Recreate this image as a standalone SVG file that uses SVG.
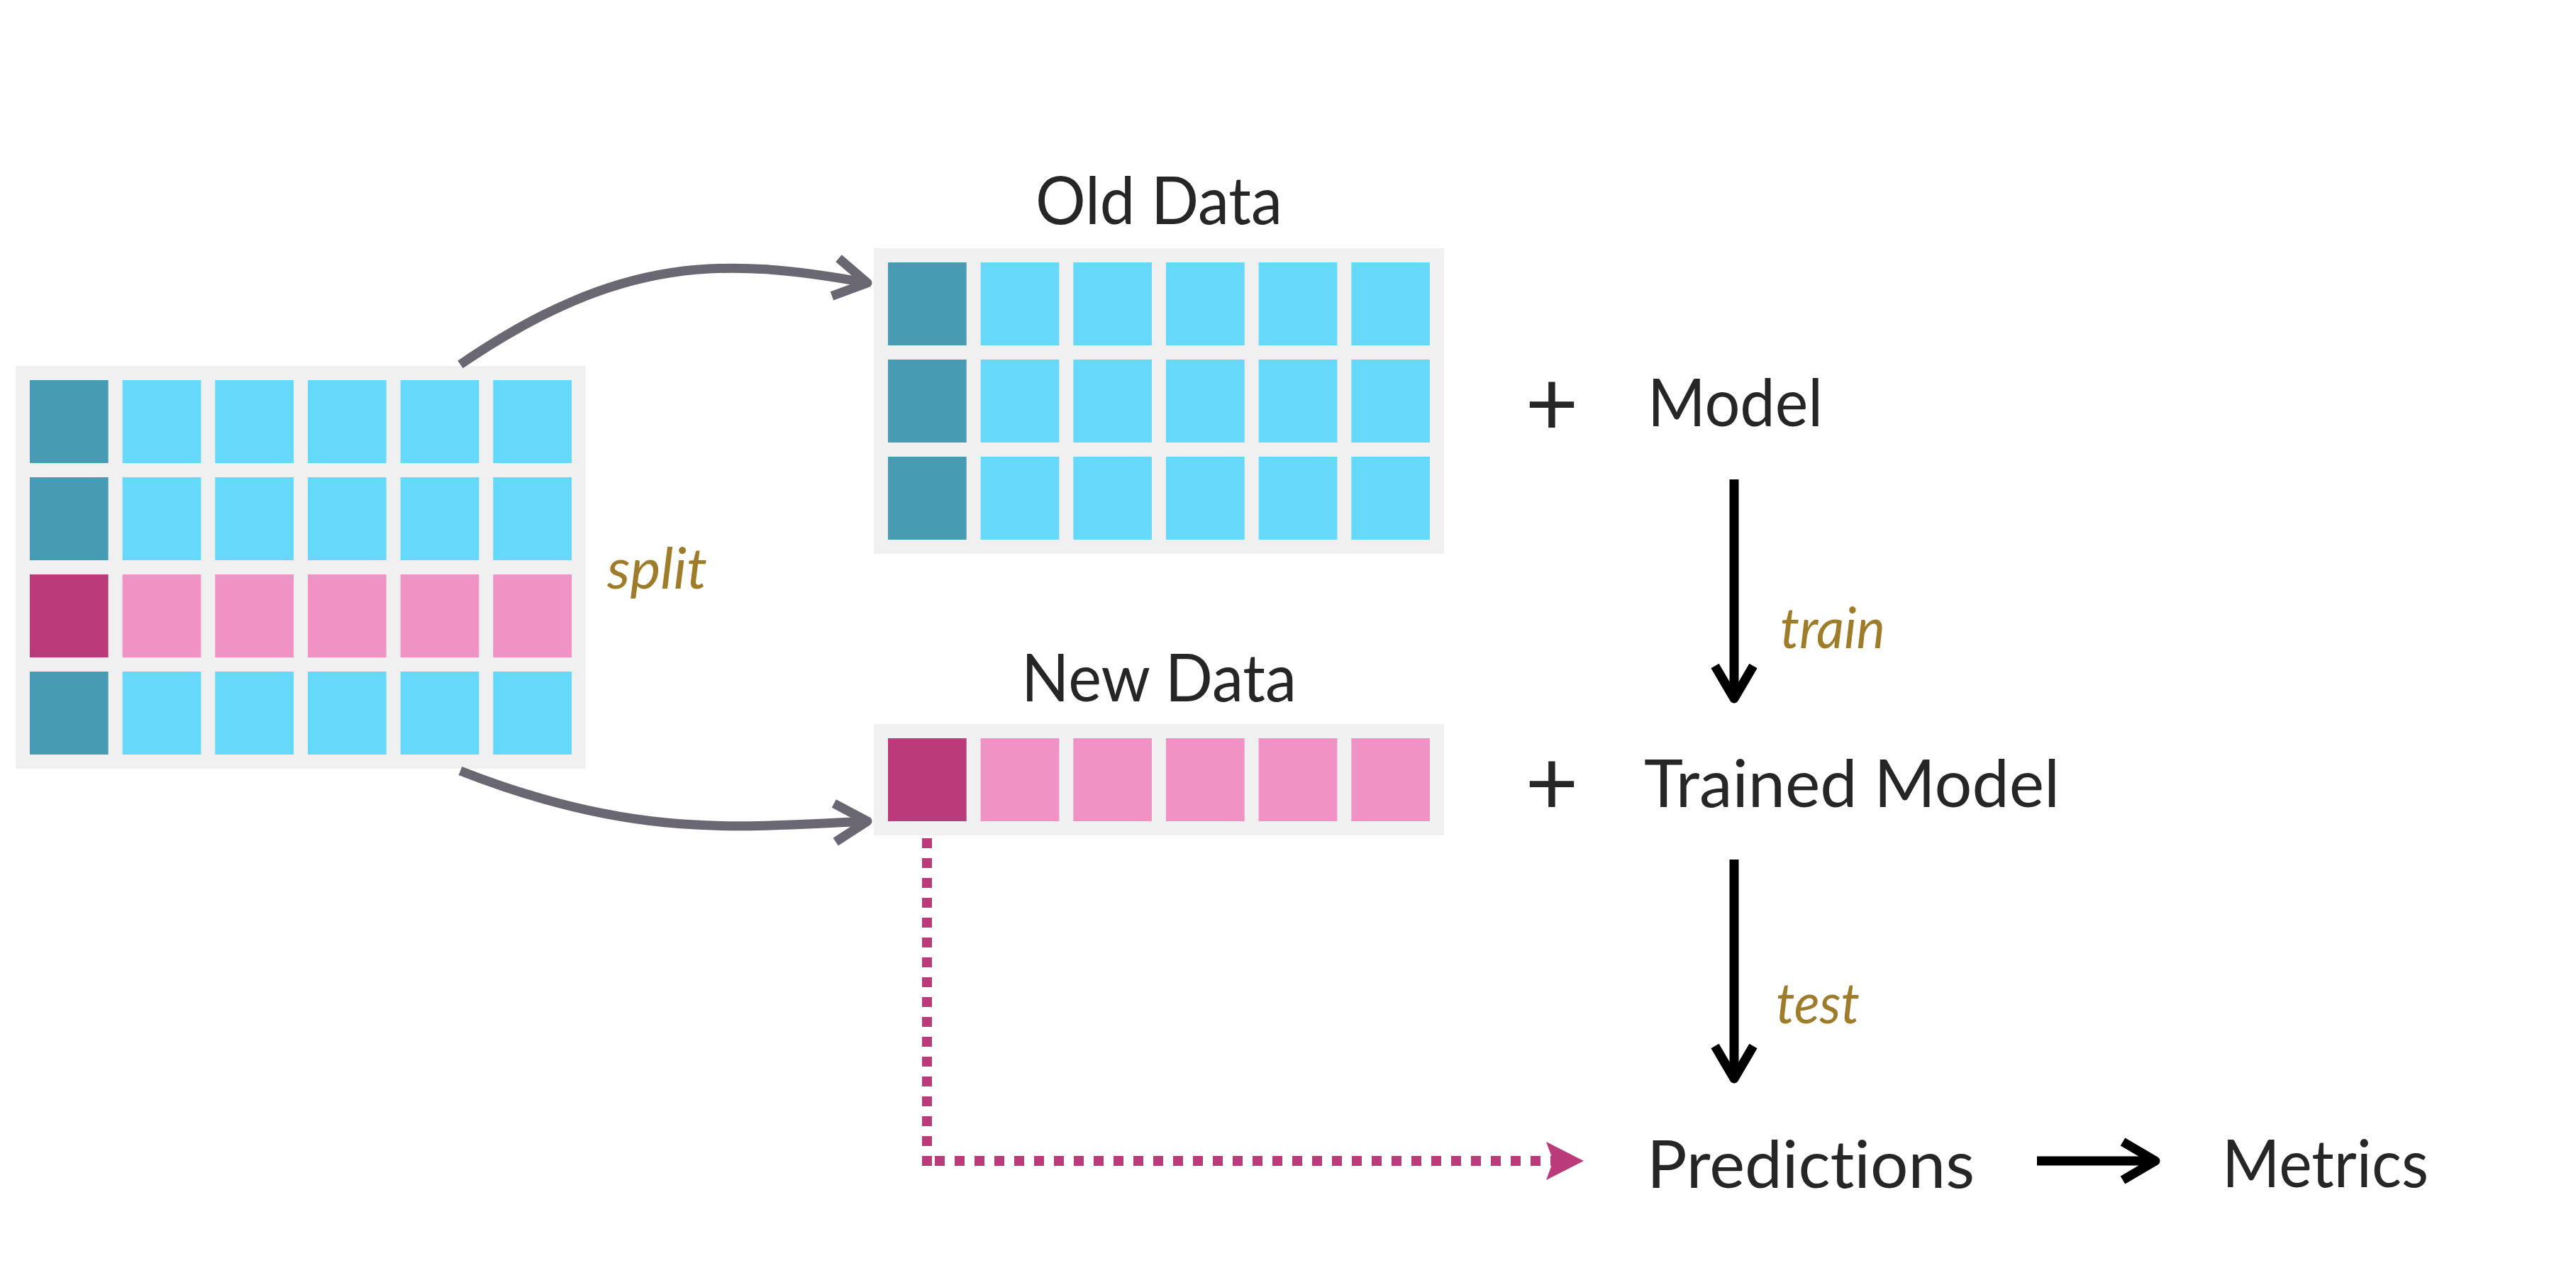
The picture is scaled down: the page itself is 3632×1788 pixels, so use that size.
<svg xmlns="http://www.w3.org/2000/svg" width="3632" height="1788" viewBox="0 0 3632 1788">
  <style>
    text { font-variant-ligatures: none; font-feature-settings: "liga" 0, "clig" 0; }
    .bg { fill: #f0f0f0; }
    .k { fill: #479cb3; }
    .b { fill: #66d9fa; }
    .kp { fill: #bb3a79; }
    .p { fill: #f093c4; }
    .title { font-family: Lato, "Open Sans", "Liberation Sans", sans-serif; font-size: 94px; fill: #262626; }
    .plus { font-family: Lato, "Open Sans", "Liberation Sans", sans-serif; font-size: 130px; fill: #262626; text-anchor: middle; }
    .lbl { font-family: Lato, "Open Sans", "Liberation Sans", sans-serif; font-style: italic; font-size: 80px; fill: #9f7c29; }
    .gray { fill: none; stroke: #6a6772; stroke-width: 13; }
    .blk { fill: none; stroke: #000000; stroke-width: 13; }
    .dot { fill: none; stroke: #bb3a79; stroke-width: 14; stroke-dasharray: 14 14; }
  </style>
  <defs>
    <marker id="chevGray" markerUnits="userSpaceOnUse" markerWidth="80" markerHeight="80" viewBox="-60 -40 80 80" refX="0" refY="0" orient="auto">
      <path d="M-46,-27 L0,0 L-46,27" fill="none" stroke="#6a6772" stroke-width="13" stroke-linejoin="round"/>
    </marker>
    <marker id="chevBlack" markerUnits="userSpaceOnUse" markerWidth="80" markerHeight="80" viewBox="-60 -40 80 80" refX="0" refY="0" orient="auto">
      <path d="M-46,-27 L0,0 L-46,27" fill="none" stroke="#000000" stroke-width="13" stroke-linejoin="round"/>
    </marker>
  </defs>
  <rect width="3632" height="1788" fill="#ffffff"/>

  <g id="all-data">
    <rect class="bg" x="22" y="516" width="804" height="568"/>
    <rect class="k" x="42" y="536" width="110.67" height="117"/>
    <rect class="b" x="172.67" y="536" width="110.67" height="117"/>
    <rect class="b" x="303.33" y="536" width="110.67" height="117"/>
    <rect class="b" x="434" y="536" width="110.67" height="117"/>
    <rect class="b" x="564.67" y="536" width="110.67" height="117"/>
    <rect class="b" x="695.33" y="536" width="110.67" height="117"/>
    <rect class="k" x="42" y="673" width="110.67" height="117"/>
    <rect class="b" x="172.67" y="673" width="110.67" height="117"/>
    <rect class="b" x="303.33" y="673" width="110.67" height="117"/>
    <rect class="b" x="434" y="673" width="110.67" height="117"/>
    <rect class="b" x="564.67" y="673" width="110.67" height="117"/>
    <rect class="b" x="695.33" y="673" width="110.67" height="117"/>
    <rect class="kp" x="42" y="810" width="110.67" height="117"/>
    <rect class="p" x="172.67" y="810" width="110.67" height="117"/>
    <rect class="p" x="303.33" y="810" width="110.67" height="117"/>
    <rect class="p" x="434" y="810" width="110.67" height="117"/>
    <rect class="p" x="564.67" y="810" width="110.67" height="117"/>
    <rect class="p" x="695.33" y="810" width="110.67" height="117"/>
    <rect class="k" x="42" y="947" width="110.67" height="117"/>
    <rect class="b" x="172.67" y="947" width="110.67" height="117"/>
    <rect class="b" x="303.33" y="947" width="110.67" height="117"/>
    <rect class="b" x="434" y="947" width="110.67" height="117"/>
    <rect class="b" x="564.67" y="947" width="110.67" height="117"/>
    <rect class="b" x="695.33" y="947" width="110.67" height="117"/>
  </g>

  <g id="old-data">
    <text class="title" x="1460" y="316" textLength="348" lengthAdjust="spacingAndGlyphs">Old Data</text>
    <rect class="bg" x="1232" y="350" width="804" height="431"/>
    <rect class="k" x="1252" y="370" width="110.67" height="117"/>
    <rect class="b" x="1382.67" y="370" width="110.67" height="117"/>
    <rect class="b" x="1513.33" y="370" width="110.67" height="117"/>
    <rect class="b" x="1644" y="370" width="110.67" height="117"/>
    <rect class="b" x="1774.67" y="370" width="110.67" height="117"/>
    <rect class="b" x="1905.33" y="370" width="110.67" height="117"/>
    <rect class="k" x="1252" y="507" width="110.67" height="117"/>
    <rect class="b" x="1382.67" y="507" width="110.67" height="117"/>
    <rect class="b" x="1513.33" y="507" width="110.67" height="117"/>
    <rect class="b" x="1644" y="507" width="110.67" height="117"/>
    <rect class="b" x="1774.67" y="507" width="110.67" height="117"/>
    <rect class="b" x="1905.33" y="507" width="110.67" height="117"/>
    <rect class="k" x="1252" y="644" width="110.67" height="117"/>
    <rect class="b" x="1382.67" y="644" width="110.67" height="117"/>
    <rect class="b" x="1513.33" y="644" width="110.67" height="117"/>
    <rect class="b" x="1644" y="644" width="110.67" height="117"/>
    <rect class="b" x="1774.67" y="644" width="110.67" height="117"/>
    <rect class="b" x="1905.33" y="644" width="110.67" height="117"/>
  </g>

  <g id="new-data">
    <text class="title" x="1440" y="989" textLength="388" lengthAdjust="spacingAndGlyphs">New Data</text>
    <rect class="bg" x="1232" y="1021" width="804" height="157"/>
    <rect class="kp" x="1252" y="1041" width="110.67" height="117"/>
    <rect class="p" x="1382.67" y="1041" width="110.67" height="117"/>
    <rect class="p" x="1513.33" y="1041" width="110.67" height="117"/>
    <rect class="p" x="1644" y="1041" width="110.67" height="117"/>
    <rect class="p" x="1774.67" y="1041" width="110.67" height="117"/>
    <rect class="p" x="1905.33" y="1041" width="110.67" height="117"/>
  </g>

  <g id="model">
    <text class="plus" x="2188" y="614">+</text>
    <text class="title" x="2323" y="601" textLength="247" lengthAdjust="spacingAndGlyphs">Model</text>
  </g>

  <g id="trained-model">
    <text class="plus" x="2188" y="1149">+</text>
    <text class="title" x="2318" y="1138" textLength="586" lengthAdjust="spacingAndGlyphs">Trained Model</text>
  </g>

  <g id="predictions">
    <text class="title" x="2322" y="1675" textLength="462" lengthAdjust="spacingAndGlyphs">Predictions</text>
  </g>

  <g id="metrics">
    <text class="title" x="3133" y="1674" textLength="291" lengthAdjust="spacingAndGlyphs">Metrics</text>
  </g>

  <g id="connectors">
    <path class="gray" d="M649,514 C877,358 1023,363 1223,399" marker-end="url(#chevGray)"/>
    <path class="gray" d="M649,1087 C896,1184 1043,1166 1223,1158" marker-end="url(#chevGray)"/>
    <path class="blk" d="M2445,676 L2445,985" marker-end="url(#chevBlack)"/>
    <path class="blk" d="M2445,1212 L2445,1521" marker-end="url(#chevBlack)"/>
    <path class="blk" d="M2872,1637 L3039,1637" marker-end="url(#chevBlack)"/>
    <path class="dot" d="M1307,1182 L1307,1644"/>
    <path class="dot" d="M1318,1637 L2190,1637"/>
    <polygon points="2233,1637 2180,1610 2190,1637 2180,1664" fill="#bb3a79"/>
    <text class="lbl" x="856" y="830" textLength="141" lengthAdjust="spacingAndGlyphs">split</text>
    <text class="lbl" x="2510" y="914" textLength="148" lengthAdjust="spacingAndGlyphs">train</text>
    <text class="lbl" x="2504" y="1443" textLength="118" lengthAdjust="spacingAndGlyphs">test</text>
  </g>
</svg>
